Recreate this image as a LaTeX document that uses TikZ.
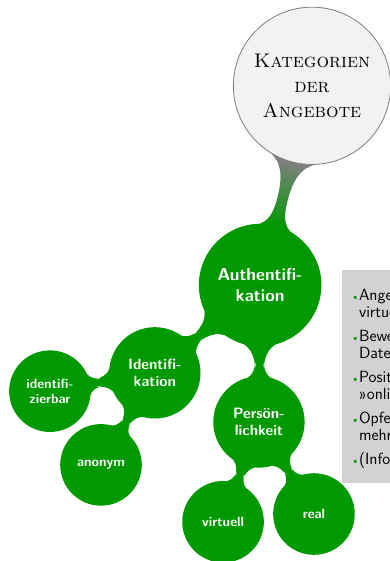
\documentclass[tikz,border=0pt]{standalone}
\usepackage{tikz}
\usetikzlibrary{mindmap,backgrounds}
\definecolor{kgruen}{RGB}{0,153,0}
\newcommand{\gpunkt}{\textcolor{kgruen}{\scalebox{0.6}{\textbullet}}}
\tikzset{
  wurzel/.style={concept, concept color=gray, fill=gray!10, draw=gray, line width=0.6pt,
    text=black, minimum size=4cm, text width=3.6cm, align=center, font=\Large\scshape},
  stufeeins/.style={concept, concept color=kgruen, minimum size=3.1cm, text width=2.8cm,
    align=center, text=white, font=\sffamily\bfseries\fontsize{12.6}{15.5}\selectfont},
  stufezwei/.style={concept, concept color=kgruen, minimum size=2.3cm, text width=2cm,
    align=center, text=white, font=\sffamily\bfseries\fontsize{10.9}{12.6}\selectfont},
  stufedrei/.style={concept, concept color=kgruen, minimum size=2.05cm, text width=1.8cm,
    align=center, text=white, font=\sffamily\bfseries\fontsize{9.8}{10.8}\selectfont},
  notiz/.style={fill=gray!35, anchor=north west, inner xsep=7pt, inner ysep=10pt,
    text width=4.5cm, align=left, font=\sffamily\fontsize{11.8}{12.2}\selectfont}
}
\begin{document}
\begin{tikzpicture}[mindmap]
\useasboundingbox (0,0) rectangle (10,-14.385);
\node[wurzel] (kat) at (8.0,-2.2) {Kategorien\\der\\Angebote};
\node[stufeeins] (auth) at (6.67,-7.31) {Authentifi-\\kation};
\node[stufezwei] (ident) at (3.97,-9.56) {Identifi-\\kation};
\node[stufezwei] (pers) at (6.64,-10.82) {Persön-\\lichkeit};
\node[stufedrei] (identbar) at (1.28,-10.03) {identifi-\\zierbar};
\node[stufedrei] (anonym) at (2.59,-11.92) {anonym};
\node[stufedrei] (virt) at (5.72,-13.38) {virtuell};
\node[stufedrei] (real) at (8.05,-13.18) {real};
\begin{scope}[on background layer]
\path (kat) to[circle connection bar switch color=from (gray) to (kgruen)] (auth);
\path (auth) to[circle connection bar switch color=from (kgruen) to (kgruen)] (ident);
\path (auth) to[circle connection bar switch color=from (kgruen) to (kgruen)] (pers);
\path (ident) to[circle connection bar switch color=from (kgruen) to (kgruen)] (identbar);
\path (ident) to[circle connection bar switch color=from (kgruen) to (kgruen)] (anonym);
\path (pers) to[circle connection bar switch color=from (kgruen) to (kgruen)] (virt);
\path (pers) to[circle connection bar switch color=from (kgruen) to (kgruen)] (real);
\end{scope}
\node[notiz] (liste) at (8.77,-6.92) {%
  \rule{0pt}{12.7pt}\gpunkt Angebote nur für\\
  \phantom{\gpunkt}virtuelle Identitäten\\[5.5pt]
  \gpunkt Bewertung anhand der\\
  \phantom{\gpunkt}Daten und Profile\\[5.5pt]
  \gpunkt Positionierung als\\
  \phantom{\gpunkt}»online«-Person\\[5.5pt]
  \gpunkt Opfer sind oft\\
  \phantom{\gpunkt}mehrere Personen\\[5.5pt]
  \gpunkt (Informationen)};
\end{tikzpicture}
\end{document}
